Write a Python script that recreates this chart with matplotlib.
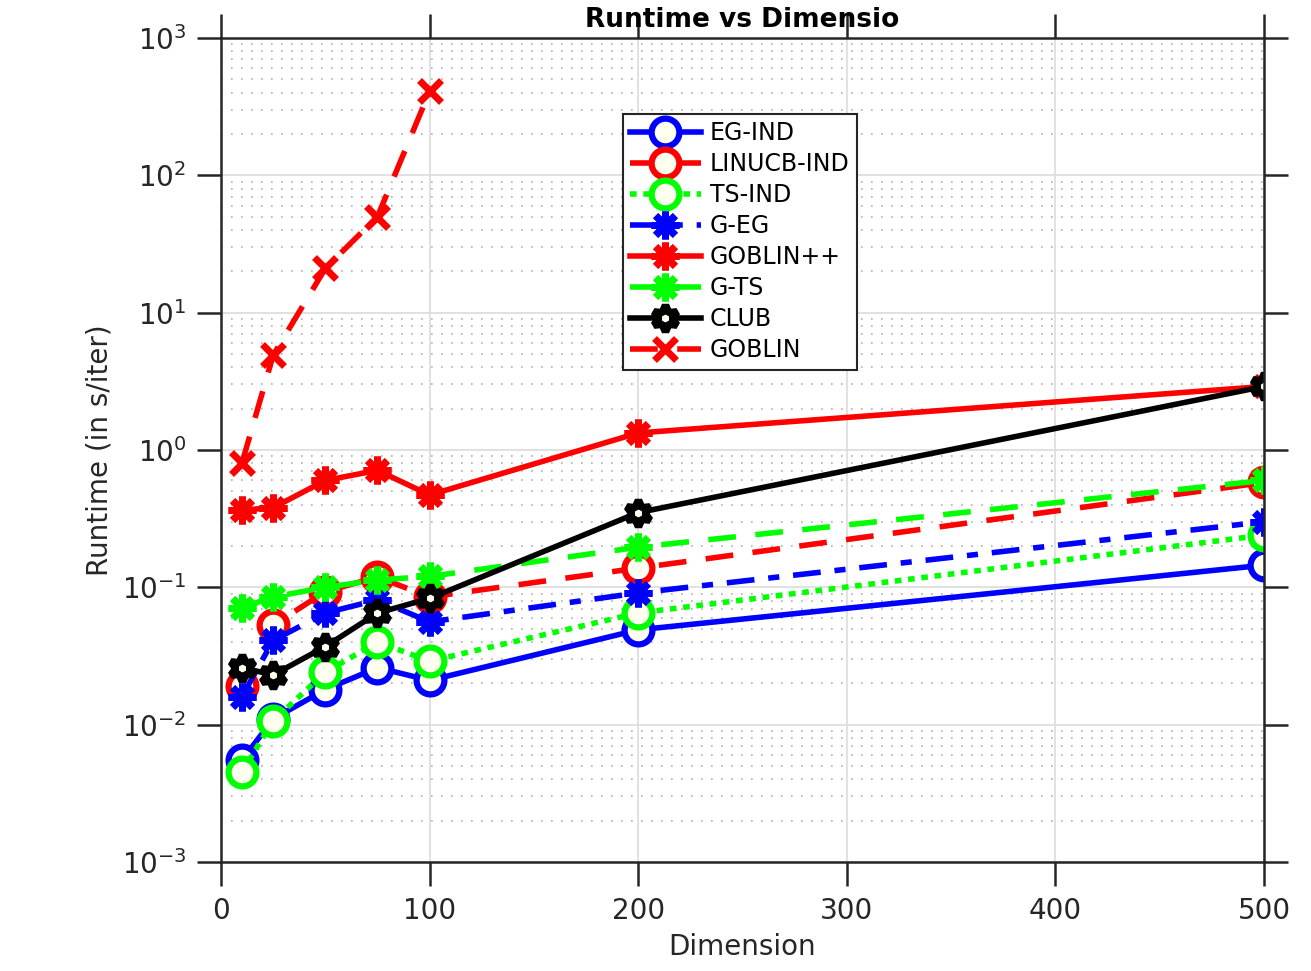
import numpy as np
import matplotlib.pyplot as plt
from matplotlib.ticker import LogLocator, NullFormatter

dims = [10, 25, 50, 75, 100, 200, 500]

eg_ind = [0.0055, 0.011, 0.018, 0.026, 0.021, 0.049, 0.145]
linucb_ind = [0.019, 0.053, 0.093, 0.119, 0.085, 0.138, 0.58]
ts_ind = [0.0045, 0.0107, 0.024, 0.040, 0.029, 0.065, 0.24]
g_eg = [0.016, 0.041, 0.065, 0.081, 0.056, 0.091, 0.30]
goblinpp = [0.365, 0.38, 0.60, 0.71, 0.47, 1.33, 2.9]
g_ts = [0.071, 0.085, 0.10, 0.113, 0.12, 0.196, 0.60]
club = [0.026, 0.023, 0.037, 0.065, 0.083, 0.35, 2.9]
goblin_dims = [10, 25, 50, 75, 100]
goblin = [0.80, 4.9, 21, 50, 410]

xticks = [0, 100, 200, 300, 400, 500]
yticks = [1e-3, 1e-2, 1e-1, 1e0, 1e1, 1e2, 1e3]

cream = "#fffff0"
ast = (8, 2, 0)
hexa = (6, 1, 0)

fig = plt.figure(figsize=(13.11, 9.71), dpi=100)
ax = fig.add_axes([0.1686, 0.1123, 0.7956, 0.8486])

lw = 4
ax.plot(dims, eg_ind, "-", color="b", lw=lw, marker="o", ms=20, mew=4.5, mfc=cream, mec="b", label="EG-IND")
ax.plot(dims, linucb_ind, color="r", lw=lw, dashes=(5, 3.5), marker="o", ms=20, mew=4.5, mfc=cream, mec="r", label="LINUCB-IND")
ax.plot(dims, ts_ind, color="#00ff00", lw=lw, dashes=(1.2, 1.2), marker="o", ms=20, mew=4.5, mfc=cream, mec="#00ff00", label="TS-IND")
ax.plot(dims, g_eg, color="b", lw=lw, dashes=(5, 2.5, 2, 2.5), marker=ast, ms=20, mew=5, mec="b", label="G-EG")
ax.plot(dims, goblinpp, "-", color="r", lw=lw, marker=ast, ms=20, mew=5, mec="r", label="GOBLIN++")
ax.plot(dims, g_ts, color="#00ff00", lw=lw, dashes=(5, 3.5), marker=ast, ms=20, mew=5, mec="#00ff00", label="G-TS")
ax.plot(dims, club, "-", color="k", lw=lw, marker=hexa, ms=19, mew=5.5, mfc=cream, mec="k", label="CLUB")
ax.plot(goblin_dims, goblin, color="r", lw=lw, dashes=(5, 3.5), marker="x", ms=16, mew=5, mec="r", label="GOBLIN")

ax.set_yscale("log")
ax.set_xlim(0, 500)
ax.set_ylim(1e-3, 1e3)
ax.set_xticks(xticks)
ax.set_yticks(yticks)
ax.yaxis.set_minor_locator(LogLocator(base=10, subs=np.arange(2, 10), numticks=20))
ax.yaxis.set_minor_formatter(NullFormatter())

ax.grid(True, which="major", color="#dcdcdc", lw=1.2, ls="-")
ax.grid(True, which="minor", axis="y", color="#b0b0b0", lw=1.2, ls=(0, (1, 5)))
ax.set_axisbelow(True)

ax.tick_params(which="major", direction="out", length=17, width=1.8, color="#262626",
               top=True, right=True, labelsize=20, labelcolor="#262626", pad=8)
ax.tick_params(which="minor", length=0)
for s in ax.spines.values():
    s.set_color("#262626")
    s.set_linewidth(1.8)

ax.set_xlabel("Dimension", fontsize=20, color="#262626", labelpad=6)
ax.set_ylabel("Runtime (in s/iter)", fontsize=20, color="#262626", labelpad=6)
ax.set_title("Runtime vs Dimensio", fontsize=19, fontweight="bold", pad=8)

leg = ax.legend(loc="upper left", bbox_to_anchor=(0.385, 0.908), fontsize=17, fancybox=False,
                edgecolor="#262626", framealpha=1, handlelength=3.0, labelspacing=0.3,
                borderpad=0.3, handletextpad=0.4, borderaxespad=0)
leg.get_frame().set_linewidth(1.5)

plt.savefig("out.png", dpi=100)
